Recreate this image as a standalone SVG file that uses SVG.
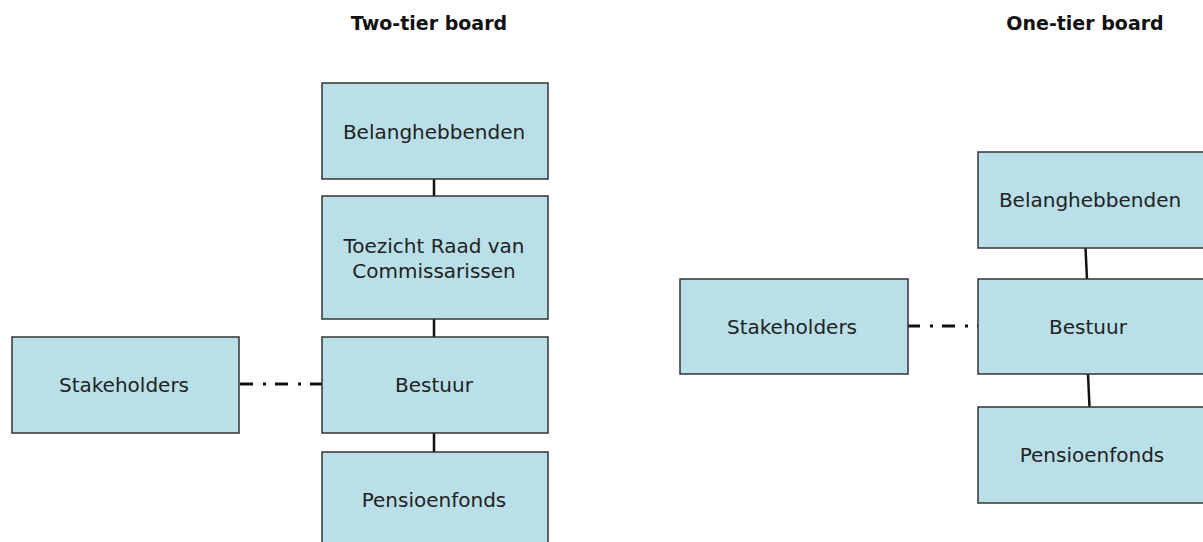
<svg xmlns="http://www.w3.org/2000/svg" width="1203" height="542" viewBox="0 0 1203 542">
<style>
.box{fill:#b9dfe9;stroke:#333;stroke-width:1.5}
.t{font-family:"DejaVu Sans",Verdana,sans-serif;font-size:20px;fill:#222;text-anchor:middle}
.title{font-family:"DejaVu Sans",Verdana,sans-serif;font-size:19px;font-weight:bold;fill:#111;text-anchor:middle}
.solid{stroke:#111;stroke-width:2.5;fill:none}
.dd{stroke:#111;stroke-width:3;fill:none;stroke-dasharray:13 10 3 9}
</style>
<rect width="1203" height="542" fill="#fff"/>
<g id="titles">
<text class="title" x="429" y="30">Two-tier board</text>
<text class="title" x="1085" y="30">One-tier board</text>
</g>
<g id="connectors">
<line class="solid" x1="434" y1="179" x2="434" y2="196"/>
<line class="solid" x1="434" y1="319" x2="434" y2="337"/>
<line class="solid" x1="434" y1="433" x2="434" y2="452"/>
<line class="dd" x1="240" y1="384" x2="322" y2="384"/>
<line class="solid" x1="1085.5" y1="248" x2="1087" y2="279"/>
<line class="solid" x1="1088" y1="374" x2="1089.5" y2="407"/>
<line class="dd" x1="907" y1="326" x2="978" y2="326"/>
</g>
<g id="l-belang">
<rect class="box" x="322" y="83" width="226" height="96"/>
<text class="t" x="434" y="139">Belanghebbenden</text>
</g>
<g id="l-toezicht">
<rect class="box" x="322" y="196" width="226" height="123"/>
<text class="t" x="434" y="253">Toezicht Raad van</text>
<text class="t" x="434" y="278">Commissarissen</text>
</g>
<g id="l-bestuur">
<rect class="box" x="322" y="337" width="226" height="96"/>
<text class="t" x="434" y="392">Bestuur</text>
</g>
<g id="l-pensioen">
<rect class="box" x="322" y="452" width="226" height="96"/>
<text class="t" x="434" y="507">Pensioenfonds</text>
</g>
<g id="l-stake">
<rect class="box" x="12" y="337" width="227" height="96"/>
<text class="t" x="124" y="392">Stakeholders</text>
</g>
<g id="r-belang">
<rect class="box" x="978" y="152" width="230" height="96"/>
<text class="t" x="1090" y="207">Belanghebbenden</text>
</g>
<g id="r-bestuur">
<rect class="box" x="978" y="279" width="230" height="95"/>
<text class="t" x="1088" y="334">Bestuur</text>
</g>
<g id="r-pensioen">
<rect class="box" x="978" y="407" width="230" height="96"/>
<text class="t" x="1092" y="462">Pensioenfonds</text>
</g>
<g id="r-stake">
<rect class="box" x="680" y="279" width="228" height="95"/>
<text class="t" x="792" y="334">Stakeholders</text>
</g>
</svg>
